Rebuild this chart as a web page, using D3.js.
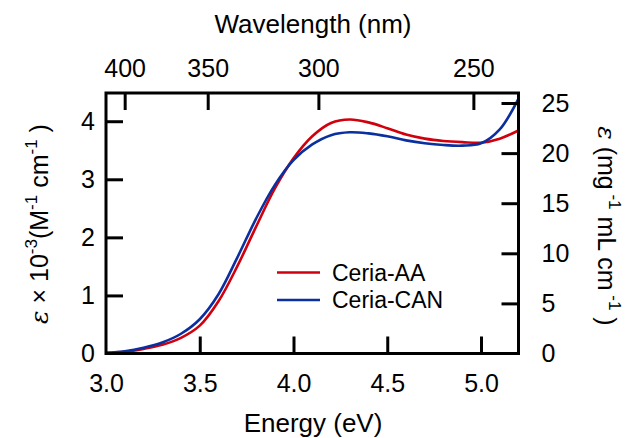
<!DOCTYPE html>
<html>
<head>
<meta charset="utf-8">
<script src="https://cdn.jsdelivr.net/npm/d3@7"></script>
<style>
body { margin: 0; background: #fff; }
text { font-family: "Liberation Sans", Arial, sans-serif; fill: #000; }
</style>
</head>
<body>
<div class="chart"></div>
<script>
// data, energy in eV, epsilon x 10^-3
let energy = [3.0, 3.1, 3.2, 3.3, 3.4, 3.5, 3.6, 3.7, 3.8, 3.9, 4.0, 4.1, 4.2, 4.3, 4.4, 4.5, 4.6, 4.7, 4.8, 4.9, 5.0, 5.1, 5.2];
let ceriaAA = [0.01, 0.03, 0.08, 0.15, 0.27, 0.48, 0.90, 1.50, 2.18, 2.84, 3.36, 3.74, 3.97, 4.03, 3.98, 3.88, 3.77, 3.70, 3.66, 3.64, 3.63, 3.70, 3.84];
let ceriaCAN = [0.01, 0.04, 0.10, 0.19, 0.34, 0.59, 1.02, 1.65, 2.32, 2.90, 3.33, 3.60, 3.76, 3.81, 3.79, 3.74, 3.67, 3.62, 3.59, 3.58, 3.62, 3.86, 4.39];
let seriesNames = ["Ceria-AA", "Ceria-CAN"];
let seriesColors = ["#d0000d", "#0a2f9e"];
let bottomTicks = [3.0, 3.5, 4.0, 4.5, 5.0];
let topTicks = [400, 350, 300, 250];
let leftTicks = [0, 1, 2, 3, 4];
let rightTicks = [0, 5, 10, 15, 20, 25];

let width = 631, height = 438;
let margin = { left: 106, right: 112.5, top: 93, bottom: 84.5 };

let x = d3.scaleLinear().domain([3.0, 5.2]).range([margin.left, width - margin.right]);
let y = d3.scaleLinear().domain([0, 4.486]).range([height - margin.bottom, margin.top]);
let y2 = d3.scaleLinear().domain([0, 26]).range([height - margin.bottom, margin.top]);

let svg = d3.select(".chart").append("svg").attr("width", width).attr("height", height);

let tickLen = 17;

// lines
let line = d3.line()
	.x(function(d){ return x(d[0]); })
	.y(function(d){ return y(d[1]); })
	.curve(d3.curveCatmullRom.alpha(0.5));

svg.append("clipPath").attr("id", "clip").append("rect")
	.attr("x", margin.left).attr("y", margin.top - 6)
	.attr("width", x(5.2) - margin.left + 2).attr("height", y(0) - margin.top + 6);

[ceriaAA, ceriaCAN].forEach(function(vals, i) {
	svg.append("path")
		.attr("clip-path", "url(#clip)")
		.attr("fill", "none")
		.attr("stroke", seriesColors[i])
		.attr("stroke-width", 2.6)
		.attr("d", line(energy.map(function(e, j){ return [e, vals[j]]; })));
});

// axes
let bottomAxis = svg.append("g")
	.attr("transform", "translate(0," + y(0) + ")")
	.call(d3.axisBottom(x).tickValues(bottomTicks).tickFormat(d3.format(".1f")).tickSizeInner(-tickLen).tickSizeOuter(0).tickPadding(21));

let topAxis = svg.append("g")
	.attr("transform", "translate(0," + margin.top + ")")
	.call(d3.axisTop(x).tickValues(topTicks.map(function(w){ return 1239.84 / w; }))
		.tickFormat(function(d){ return Math.round(1239.84 / d); })
		.tickSizeInner(-tickLen).tickSizeOuter(0).tickPadding(16));

let leftAxis = svg.append("g")
	.attr("transform", "translate(" + margin.left + ",0)")
	.call(d3.axisLeft(y).tickValues(leftTicks).tickFormat(d3.format("d")).tickSizeInner(-tickLen).tickSizeOuter(0).tickPadding(11));

let rightAxis = svg.append("g")
	.attr("transform", "translate(" + x(5.2) + ",0)")
	.call(d3.axisRight(y2).tickValues(rightTicks).tickFormat(d3.format("d")).tickSizeInner(-tickLen).tickSizeOuter(0).tickPadding(23));

[bottomAxis, topAxis, leftAxis, rightAxis].forEach(function(g) {
	g.select(".domain").remove();
	g.selectAll(".tick line").attr("stroke", "#000").attr("stroke-width", 3);
	g.selectAll(".tick text").attr("font-size", 25).attr("font-family", "Liberation Sans, Arial, sans-serif").attr("fill", "#000");
});
leftAxis.selectAll(".tick").filter(function(d){ return d === 0; }).select("line").remove();
rightAxis.selectAll(".tick").filter(function(d){ return d === 0; }).select("line").remove();
bottomAxis.selectAll(".tick").filter(function(d){ return d === 3.0; }).select("line").remove();

// frame
svg.append("rect")
	.attr("x", margin.left).attr("y", margin.top)
	.attr("width", x(5.2) - margin.left).attr("height", y(0) - margin.top)
	.attr("fill", "none").attr("stroke", "#000").attr("stroke-width", 3);

// titles
svg.append("text").attr("x", 313).attr("y", 432).attr("text-anchor", "middle").attr("font-size", 26).text("Energy (eV)");
svg.append("text").attr("x", 313).attr("y", 33).attr("text-anchor", "middle").attr("font-size", 26).text("Wavelength (nm)");

let leftTitle = svg.append("text")
	.attr("transform", "translate(48,224) rotate(-90)")
	.attr("text-anchor", "middle").attr("font-size", 25);
leftTitle.append("tspan").attr("font-style", "italic").attr("font-family", "DejaVu Serif, serif").text("ε");
leftTitle.append("tspan").text(" × 10");
leftTitle.append("tspan").attr("dy", -11).attr("font-size", 17).text("-3");
leftTitle.append("tspan").attr("dy", 11).text("(M");
leftTitle.append("tspan").attr("dy", -11).attr("font-size", 17).text("-1");
leftTitle.append("tspan").attr("dy", 11).text(" cm");
leftTitle.append("tspan").attr("dy", -11).attr("font-size", 17).text("-1");
leftTitle.append("tspan").attr("dy", 11).text(" )");

let rightTitle = svg.append("text")
	.attr("transform", "translate(598,226) rotate(90)")
	.attr("text-anchor", "middle").attr("font-size", 25);
rightTitle.append("tspan").attr("font-style", "italic").attr("font-family", "DejaVu Serif, serif").text("ε");
rightTitle.append("tspan").text(" (mg");
rightTitle.append("tspan").attr("dy", -11).attr("font-size", 17).text(" -1");
rightTitle.append("tspan").attr("dy", 11).text(" mL cm");
rightTitle.append("tspan").attr("dy", -11).attr("font-size", 17).text(" -1");
rightTitle.append("tspan").attr("dy", 11).text(" )");

// legend
let legend = svg.append("g");
seriesNames.forEach(function(name, i) {
	let ly = 272.5 + i * 27.5;
	legend.append("line").attr("x1", 277).attr("x2", 320).attr("y1", ly).attr("y2", ly)
		.attr("stroke", seriesColors[i]).attr("stroke-width", 2.6);
	legend.append("text").attr("x", 332).attr("y", ly + 8).attr("font-size", 23).text(name);
});
</script>
</body>
</html>
